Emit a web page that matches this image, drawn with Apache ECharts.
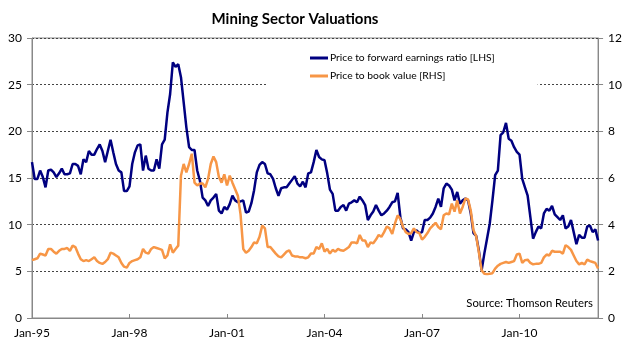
<!DOCTYPE html>
<html>
<head>
<meta charset="utf-8">
<script src="https://cdn.jsdelivr.net/npm/echarts@6/dist/echarts.min.js"></script>
<style>
html,body{margin:0;padding:0;background:#fff;}
#chart{width:625px;height:343px;}
</style>
</head>
<body>
<div id="chart"></div>
<script>
// Monthly data, Jan-95 .. Jun-12
var monthNames = ['Jan','Feb','Mar','Apr','May','Jun','Jul','Aug','Sep','Oct','Nov','Dec'];
var startYear = 1995;
var monthCount = 210;

// Price to forward earnings ratio [LHS]
var peRatio = [
  16.7,14.9,14.9,15.8,15.1,14.0,15.8,15.9,15.6,15.1,15.5,16.0,
  15.4,15.4,15.5,16.5,16.5,16.3,15.4,17.0,16.7,17.9,17.5,17.5,
  18.1,18.6,17.9,16.7,17.9,19.1,17.75,16.5,15.8,15.6,13.6,13.6,
  14.1,16.5,17.75,18.5,18.6,15.8,17.4,16.0,15.8,15.8,17.0,16.0,
  18.6,19.1,22.0,24.0,27.4,26.9,27.2,25.8,23.1,20.4,18.3,18.0,
  18.0,15.8,14.7,12.9,12.6,12.0,12.6,12.9,13.3,11.5,11.2,11.9,
  11.6,12.2,13.1,12.6,12.4,12.5,12.6,11.3,11.4,12.3,13.7,15.6,
  16.4,16.7,16.5,15.5,15.4,14.9,13.9,13.1,13.9,14.0,14.0,14.4,
  14.8,15.2,14.4,14.1,14.6,14.0,15.5,15.6,16.7,18.0,17.25,17.0,
  16.9,15.5,13.75,13.3,11.5,11.5,11.9,12.1,11.5,12.25,12.4,12.6,
  12.4,13.0,12.6,12.1,10.5,11.0,11.4,12.1,11.5,11.0,11.2,11.5,
  11.9,12.4,12.5,13.4,10.8,9.6,9.5,9.2,8.3,9.2,9.4,9.1,
  9.2,10.5,10.5,10.75,11.2,11.9,12.8,11.9,13.9,14.4,14.2,13.75,
  12.6,13.5,12.25,12.6,12.8,12.6,11.2,9.1,8.8,7.2,5.1,6.9,
  8.5,10.1,12.6,15.3,15.8,19.6,19.9,20.9,19.2,19.0,18.3,17.8,
  17.5,14.9,14.0,13.1,10.8,8.5,9.2,9.8,9.6,11.2,11.7,11.5,
  12.0,11.1,10.8,10.5,11.0,9.6,9.8,10.5,9.2,7.9,8.9,8.6,
  8.6,9.8,9.9,9.2,9.5,8.3
];

// Price to book value [RHS]
var pbValue = [
  2.48,2.52,2.56,2.76,2.72,2.68,2.96,2.96,2.84,2.76,2.88,2.96,
  2.96,3.0,2.88,3.1,3.04,2.76,2.52,2.44,2.48,2.44,2.52,2.6,
  2.44,2.36,2.32,2.4,2.52,2.8,2.76,2.68,2.6,2.36,2.2,2.16,
  2.36,2.44,2.48,2.52,2.6,2.96,2.8,2.76,2.96,3.04,3.0,2.96,
  2.92,2.56,2.68,3.16,2.8,2.96,3.1,6.1,6.6,6.24,6.6,7.04,
  5.8,5.68,5.76,5.76,5.6,5.96,6.6,6.92,6.68,6.04,5.8,6.16,
  5.68,6.1,5.8,5.52,5.24,4.44,2.96,2.8,2.88,3.04,3.24,3.2,
  3.48,3.96,3.84,3.04,3.04,2.9,2.76,2.64,2.6,2.72,2.84,2.9,
  2.68,2.64,2.64,2.6,2.6,2.56,2.6,2.76,2.76,3.04,2.96,3.2,
  2.84,2.96,2.76,2.92,2.84,2.96,2.9,2.88,2.96,3.04,3.24,3.24,
  3.2,3.56,3.32,3.32,3.04,3.24,3.2,3.36,3.56,3.48,3.68,3.92,
  3.84,3.6,4.04,4.4,4.24,3.9,3.68,3.6,3.64,3.84,3.68,3.64,
  3.36,3.48,3.64,3.84,3.96,4.08,3.9,3.8,4.4,4.48,4.44,4.9,
  4.56,5.04,4.48,4.76,5.12,5.08,4.6,3.76,3.5,2.8,2.04,1.9,
  1.88,1.9,1.92,2.12,2.24,2.32,2.36,2.4,2.36,2.4,2.44,2.72,
  2.76,2.36,2.48,2.5,2.36,2.3,2.32,2.32,2.36,2.6,2.72,2.68,
  2.88,2.84,2.84,2.84,2.76,3.12,3.04,2.92,2.68,2.44,2.3,2.36,
  2.3,2.5,2.44,2.4,2.36,2.12
];

var leftTicks = {min: 0, max: 30, interval: 5};
var rightTicks = {min: 0, max: 12, interval: 2};

var categories = [];
for (var i = 0; i < monthCount; i++) {
  var y = startYear + Math.floor(i / 12);
  categories.push(monthNames[i % 12] + '-' + String(y % 100).padStart(2, '0'));
}

var FONT = 'Lato';
var chart = echarts.init(document.getElementById('chart'), null, {renderer: 'canvas'});
chart.setOption({
  animation: false,
  backgroundColor: '#fff',
  title: {
    text: 'Mining Sector Valuations',
    left: 290, top: 7, textAlign: 'center',
    textStyle: {fontFamily: FONT, fontSize: 15, fontWeight: 'bold', color: '#000'}
  },
  legend: {
    orient: 'vertical',
    left: 268, top: 45,
    padding: [8, 43, 10, 42],
    backgroundColor: '#fff',
    itemWidth: 18, itemHeight: 3, itemGap: 8,
    icon: 'rect',
    textStyle: {fontFamily: FONT, fontSize: 10.3, color: '#000', padding: [0, 0, 0, -3]},
    data: ['Price to forward earnings ratio [LHS]', 'Price to book value [RHS]']
  },
  grid: {left: 32, right: 26, top: 38, bottom: 25, show: true, borderColor: '#888', borderWidth: 1, backgroundColor: 'transparent'},
  xAxis: {
    type: 'category', data: categories, boundaryGap: false,
    axisLine: {lineStyle: {color: '#888'}},
    axisTick: {inside: true, length: 4, interval: 35, lineStyle: {color: '#888'}},
    axisLabel: {interval: 35, margin: 9, fontFamily: FONT, fontSize: 12, color: '#000'},
    splitLine: {show: false}
  },
  yAxis: [{
    type: 'value', min: leftTicks.min, max: leftTicks.max, interval: leftTicks.interval,
    axisLine: {show: true, lineStyle: {color: '#888'}},
    axisTick: {show: true, length: 5, lineStyle: {color: '#888'}},
    axisLabel: {margin: 10, fontFamily: FONT, fontSize: 12, color: '#000'},
    splitLine: {show: true, lineStyle: {color: '#444', type: [2, 2], width: 1}}
  }, {
    type: 'value', min: rightTicks.min, max: rightTicks.max, interval: rightTicks.interval,
    position: 'right',
    axisLine: {show: true, lineStyle: {color: '#888'}},
    axisTick: {show: true, length: 5, lineStyle: {color: '#888'}},
    axisLabel: {margin: 10, fontFamily: FONT, fontSize: 12, color: '#000'},
    splitLine: {show: false}
  }],
  series: [{
    name: 'Price to forward earnings ratio [LHS]',
    type: 'line', yAxisIndex: 0, data: peRatio,
    symbol: 'none', color: '#000080',
    lineStyle: {color: '#000080', width: 2.5}, z: 2
  }, {
    name: 'Price to book value [RHS]',
    type: 'line', yAxisIndex: 1, data: pbValue,
    symbol: 'none', color: '#F79646',
    lineStyle: {color: '#F79646', width: 2.5}, z: 3
  }],
  graphic: [{
    type: 'text', right: 32, top: 298,
    style: {text: 'Source: Thomson Reuters', fontFamily: FONT, fontSize: 11.3, fill: '#000', textAlign: 'right'}
  }]
});
</script>
</body>
</html>
